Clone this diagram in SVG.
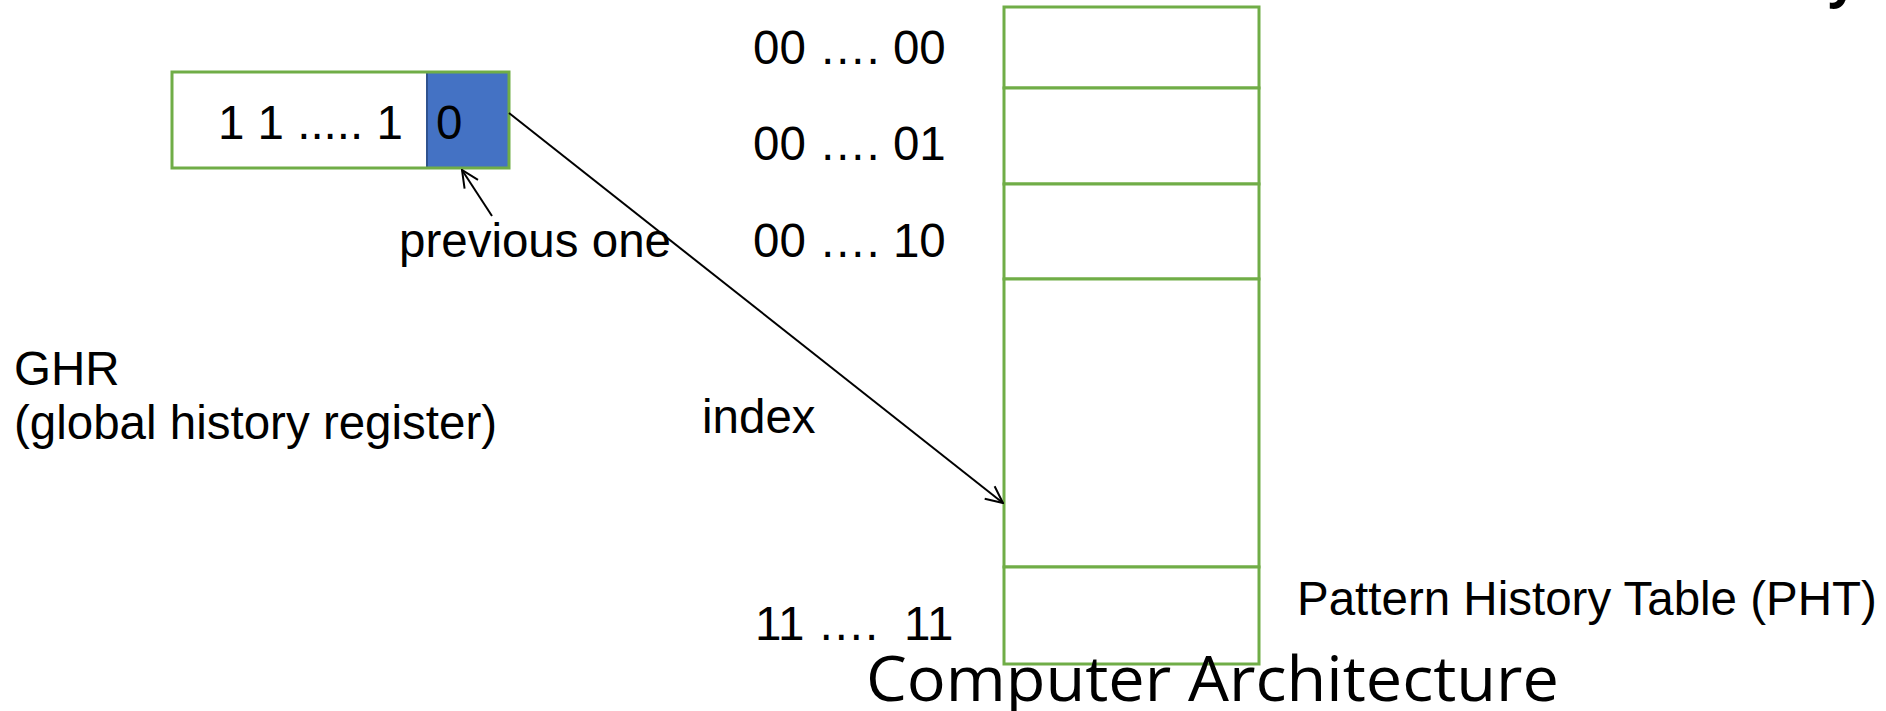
<svg xmlns="http://www.w3.org/2000/svg" width="1886" height="711" viewBox="0 0 1886 711">
<style>
.t{font-family:"Liberation Sans",Arial,sans-serif;font-size:47.5px;fill:#000}
.cell{fill:#fff;stroke:#70AD47;stroke-width:3}
.conn{stroke:#000;stroke-width:2;fill:none}
</style>
<defs>
<marker id="open" viewBox="0 0 20 20" refX="19" refY="10" markerWidth="20" markerHeight="20" markerUnits="userSpaceOnUse" orient="auto">
<path d="M2,2 L19,10 L2,18" fill="none" stroke="#000" stroke-width="2"/>
</marker>
</defs>
<rect width="1886" height="711" fill="#fff"/>
<g id="ghr">
<rect x="172" y="72" width="337" height="96" fill="#fff"/>
<rect x="427" y="72" width="82" height="96" fill="#4472C4" stroke="#2F528F" stroke-width="2"/>
<rect x="172" y="72" width="337" height="96" fill="none" stroke="#70AD47" stroke-width="3"/>
<text class="t" x="218" y="139">1 1 ..... 1</text>
<text class="t" x="436" y="139">0</text>
</g>
<g id="ghr-label">
<text class="t" x="14" y="385">GHR</text>
<text class="t" x="14" y="439">(global history register)</text>
</g>
<g id="previous-label">
<text class="t" x="399" y="257">previous one</text>
</g>
<g id="pht">
<rect class="cell" x="1004" y="7" width="255" height="81"/>
<rect class="cell" x="1004" y="88" width="255" height="96"/>
<rect class="cell" x="1004" y="184" width="255" height="95"/>
<rect class="cell" x="1004" y="279" width="255" height="288"/>
<rect class="cell" x="1004" y="567" width="255" height="97"/>
</g>
<g id="pht-index-labels">
<text class="t" x="753" y="64">00 …. 00</text>
<text class="t" x="753" y="160">00 …. 01</text>
<text class="t" x="753" y="257">00 …. 10</text>
<text class="t" x="755" y="640">11 …. <tspan x="904">11</tspan></text>
<text class="t" x="702" y="433">index</text>
</g>
<g id="pht-label">
<text class="t" x="1297" y="615">Pattern History Table (PHT)</text>
</g>
<g id="connectors">
<line class="conn" x1="509" y1="113" x2="1003" y2="503" marker-end="url(#open)"/>
<line class="conn" x1="492" y1="216" x2="462" y2="170" marker-end="url(#open)"/>
</g>
<g id="footer">
<text x="866" y="701" font-family="'Open Sans','Noto Sans',sans-serif" font-size="62" textLength="693" lengthAdjust="spacingAndGlyphs">Computer Architecture</text>
<text x="1828" y="-4" font-family="'Open Sans','Noto Sans',sans-serif" font-size="52" font-weight="bold">y</text>
</g>
</svg>
